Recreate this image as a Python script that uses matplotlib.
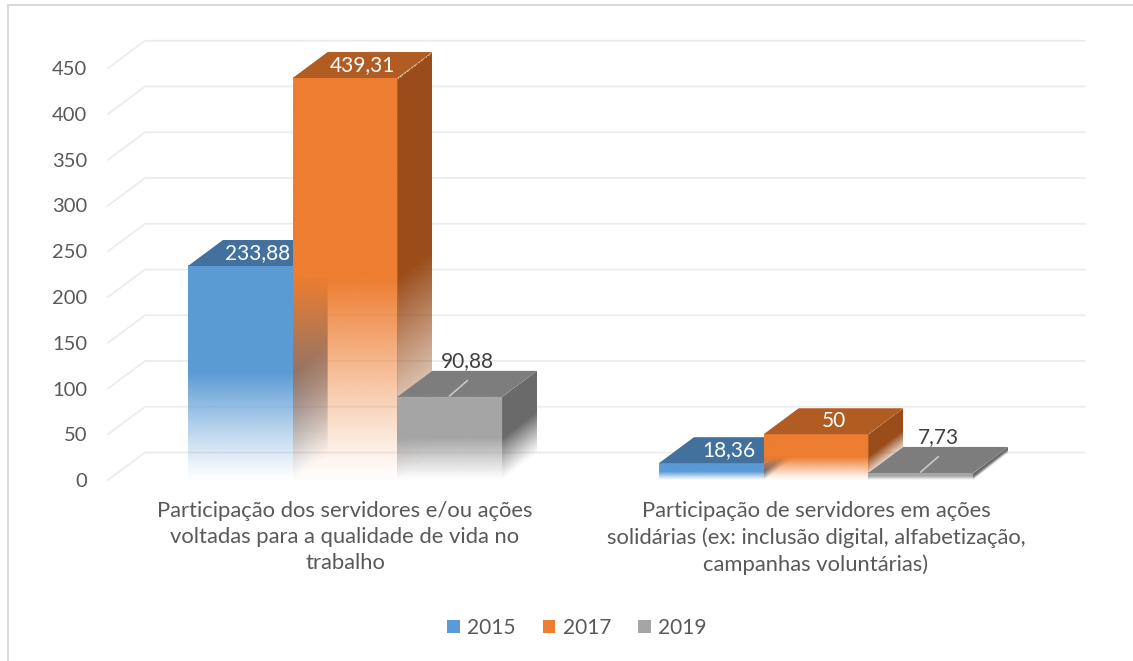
"""Excel-style 3D clustered bar chart with fading bars."""

import numpy as np
import matplotlib
matplotlib.use("Agg")
import matplotlib.pyplot as plt
from matplotlib.patches import Polygon, Patch
from matplotlib.lines import Line2D

# data
categories = [
    "Participação dos servidores e/ou ações\nvoltadas para a qualidade de vida no\ntrabalho",
    "Participação de servidores em ações\nsolidárias (ex: inclusão digital, alfabetização,\ncampanhas voluntárias)",
]
years = ["2015", "2017", "2019"]
values_2015 = [233.88, 18.36]
values_2017 = [439.31, 50]
values_2019 = [90.88, 7.73]
value_labels_2015 = ["233,88", "18,36"]
value_labels_2017 = ["439,31", "50"]
value_labels_2019 = ["90,88", "7,73"]
y_ticks = [0, 50, 100, 150, 200, 250, 300, 350, 400, 450]

# colours: front, side, top
front_colors = ["#5b9bd5", "#ed7d31", "#a5a5a5"]
side_colors = ["#3d6b97", "#9a4d1b", "#6a6a6a"]
top_colors = ["#41719c", "#b05c22", "#7d7d7d"]
label_colors = ["white", "white", "#404040"]
TEXT = "#595959"
FONT = "Lato"
FS = 14.5

# scale: pixels per x unit and per value unit
PX_X = 471.0
PX_Y = 0.915
BAR_W = 104.7 / PX_X
DX = 35 / PX_X            # bar depth
DY = 26 / PX_Y
GDX = 37 / PX_X           # wall depth for gridlines
GDY = 27.5 / PX_Y


def fade_alpha(height_along, h):
    """Transparency gradient: opaque at top, fading out toward the floor."""
    t = np.clip(height_along / (0.5 * h), 0, 1)
    return np.clip(t ** 1.1, 0.02, 1)


def gradient_image(color, alpha):
    rgb = np.array(matplotlib.colors.to_rgb(color))
    img = np.zeros(alpha.shape + (4,))
    img[..., :3] = rgb
    img[..., 3] = alpha
    return img


def draw_bar(ax, x0, h, k):
    x1 = x0 + BAR_W
    # front face
    ys = np.linspace(h, 0, 200)
    alpha = fade_alpha(ys, h)[:, None] * np.ones((1, 2))
    ax.imshow(gradient_image(front_colors[k], alpha), extent=(x0, x1, 0, h),
              aspect="auto", interpolation="bilinear", zorder=3 + k, clip_on=False)
    # side face
    side = Polygon([(x1, 0), (x1 + DX, DY), (x1 + DX, h + DY), (x1, h)],
                   closed=True, facecolor="none", edgecolor="none")
    ax.add_patch(side)
    xs = np.linspace(0, 1, 40)
    ys = np.linspace(h + DY, 0, 240)
    XX, YY = np.meshgrid(xs, ys)
    along = YY - XX * DY
    alpha = np.where((along >= 0) & (along <= h), fade_alpha(along, h), 0)
    im = ax.imshow(gradient_image(side_colors[k], alpha),
                   extent=(x1, x1 + DX, 0, h + DY), aspect="auto",
                   interpolation="bilinear", zorder=3 + k)
    im.set_clip_path(side)
    # top face
    ax.add_patch(Polygon([(x0, h), (x1, h), (x1 + DX, h + DY), (x0 + DX, h + DY)],
                         closed=True, facecolor=top_colors[k], edgecolor="none",
                         zorder=3 + k))


fig = plt.figure(figsize=(11.33, 6.61), dpi=100)
ax = fig.add_axes([108 / 1133, (661 - 480) / 661, (1085 - 108) / 1133, 450 / 661])
x_left = (108 - 345) / PX_X
x_right = (1085 - 345) / PX_X

# back-wall gridlines
for v in y_ticks:
    ax.plot([x_left, x_left + GDX, x_right], [v, v + GDY, v + GDY],
            color="#ececec", lw=1.3, zorder=1, clip_on=False)

all_values = [values_2015, values_2017, values_2019]
all_labels = [value_labels_2015, value_labels_2017, value_labels_2019]
centers = np.arange(len(categories))

for g in centers:
    for k in range(len(years)):
        h = all_values[k][g]
        x0 = g + (k - 1.5) * BAR_W
        draw_bar(ax, x0, h, k)
        cx = x0 + BAR_W / 2 + DX / 2
        cy = h + DY / 2
        if k < 2:
            ax.text(cx, cy, all_labels[k][g], color=label_colors[k], fontsize=FS + 0.5,
                    family=FONT, ha="center", va="center", zorder=10)
        else:
            ax.plot([x0 + BAR_W / 2, cx], [h + 1, h + DY * 0.62],
                    color="#c8c8c8", lw=1.2, zorder=10)
            ax.text(cx, cy + 23 / PX_Y, all_labels[k][g], color=label_colors[k],
                    fontsize=FS + 0.5, family=FONT, ha="center", va="center", zorder=10)

ax.set_xlim(x_left, x_right)
ax.set_ylim(0, 450 / PX_Y)
ax.set_yticks(y_ticks)
ax.set_yticklabels([str(v) for v in y_ticks], fontsize=FS, family=FONT, color=TEXT)
ax.set_xticks(centers)
ax.set_xticklabels(categories, fontsize=15.8, family=FONT, color=TEXT, linespacing=1.38)
ax.tick_params(axis="y", length=0, pad=15)
ax.tick_params(axis="x", length=0, pad=15)
for s in ax.spines.values():
    s.set_visible(False)
ax.patch.set_visible(False)

handles = [Patch(facecolor=c, edgecolor="none") for c in front_colors]
fig.legend(handles, years, loc="center", bbox_to_anchor=(577 / 1133, 1 - 628 / 661),
           ncol=3, frameon=False, handlelength=0.6, handleheight=0.6,
           handletextpad=0.35, columnspacing=1.3,
           prop={"family": FONT, "size": FS + 0.5}, labelcolor=TEXT)

# chart frame (left and top edges visible)
fig.add_artist(Line2D([8 / 1133, 8 / 1133], [0, 1 - 5 / 661], color="#d9d9d9", lw=1.5))
fig.add_artist(Line2D([8 / 1133, 1], [1 - 5 / 661, 1 - 5 / 661], color="#d9d9d9", lw=1.5))

fig.savefig("out.png", dpi=100)
